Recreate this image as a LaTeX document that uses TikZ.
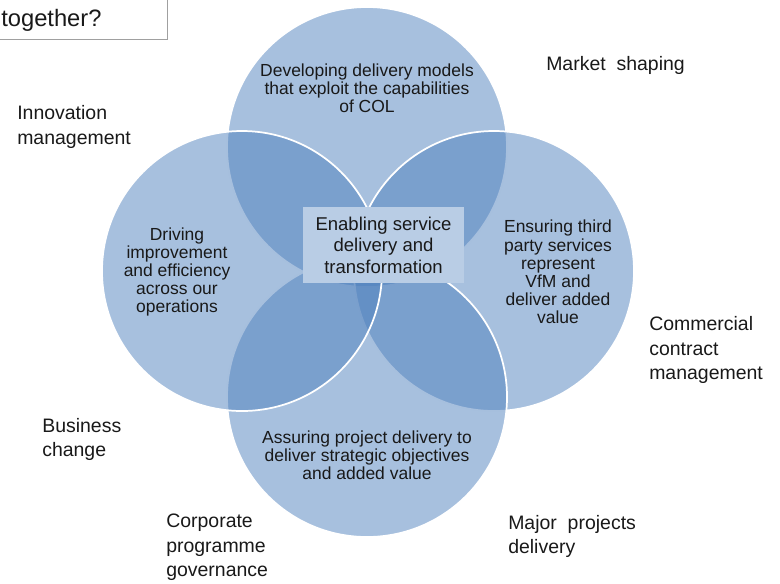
\documentclass[tikz,border=0pt]{standalone}
\usepackage{fontspec}
\setmainfont{Liberation Sans}
\definecolor{venn_blue}{RGB}{79,129,189}
\definecolor{box_blue}{RGB}{185,205,229}
\definecolor{frame_grey}{RGB}{160,160,160}
\tikzstyle{vn}=[circle,fill=venn_blue,fill opacity=0.5,draw=white,
  line width=1.3pt,inner sep=0pt,minimum size=210pt]
\tikzstyle{ct}=[align=center,inner sep=0pt,text=black!90,
  font=\fontsize{13.1pt}{13.6pt}\selectfont]
\tikzstyle{lb}=[align=left,anchor=west,inner sep=0pt,text=black!90,
  font=\fontsize{14.6pt}{18.5pt}\selectfont]
\tikzstyle{cb}=[rectangle,fill=box_blue,minimum width=120.75pt,
  minimum height=57pt,align=center,inner sep=0pt,text=black!90,
  font=\fontsize{13.9pt}{16.1pt}\selectfont]

\begin{document}
\begin{tikzpicture}[x=0.75pt,y=-0.75pt]
    \useasboundingbox (0,0) rectangle (780,583);
    \clip (0,0) rectangle (780,583);
    % question box, cut off at the top left
    \draw [frame_grey, line width=0.75pt] (-5,-5) rectangle (167,39);
    \node [lb, font=\fontsize{17.8pt}{20pt}\selectfont] (q) at (1,20) {together?};
    % the four circles
    \node [style=vn] (t) at (367,147) {};
    \node [style=vn] (r) at (494,271) {};
    \node [style=vn] (b) at (367,397) {};
    \node [style=vn] (l) at (242,271) {};
    \node [style=cb] (c) at (383.5,245) {Enabling service\\delivery and\\transformation};
    % circle texts
    \node [style=ct] (tt) at (367,88) {Developing delivery models\\that exploit the capabilities\\of COL};
    \node [style=ct] (lt) at (177,272) {Driving\\improvement\\and efficiency\\across our\\operations};
    \node [style=ct] (rt) at (558,272) {Ensuring third\\party services\\represent\\VfM and\\deliver added\\value};
    \node [style=ct] (bt) at (367,455) {Assuring project delivery to\\deliver strategic objectives\\and added value};
    % outer labels
    \node [style=lb] (l1) at (17,127) {Innovation\\management};
    \node [style=lb] (l2) at (546,65) {Market \ shaping};
    \node [style=lb] (l3) at (649,350) {Commercial\\contract\\management};
    \node [style=lb] (l4) at (42,439.5) {Business\\change};
    \node [style=lb] (l5) at (166,547.5) {Corporate\\programme\\governance};
    \node [style=lb] (l6) at (508,536.5) {Major \ projects\\delivery};
\end{tikzpicture}
\end{document}
